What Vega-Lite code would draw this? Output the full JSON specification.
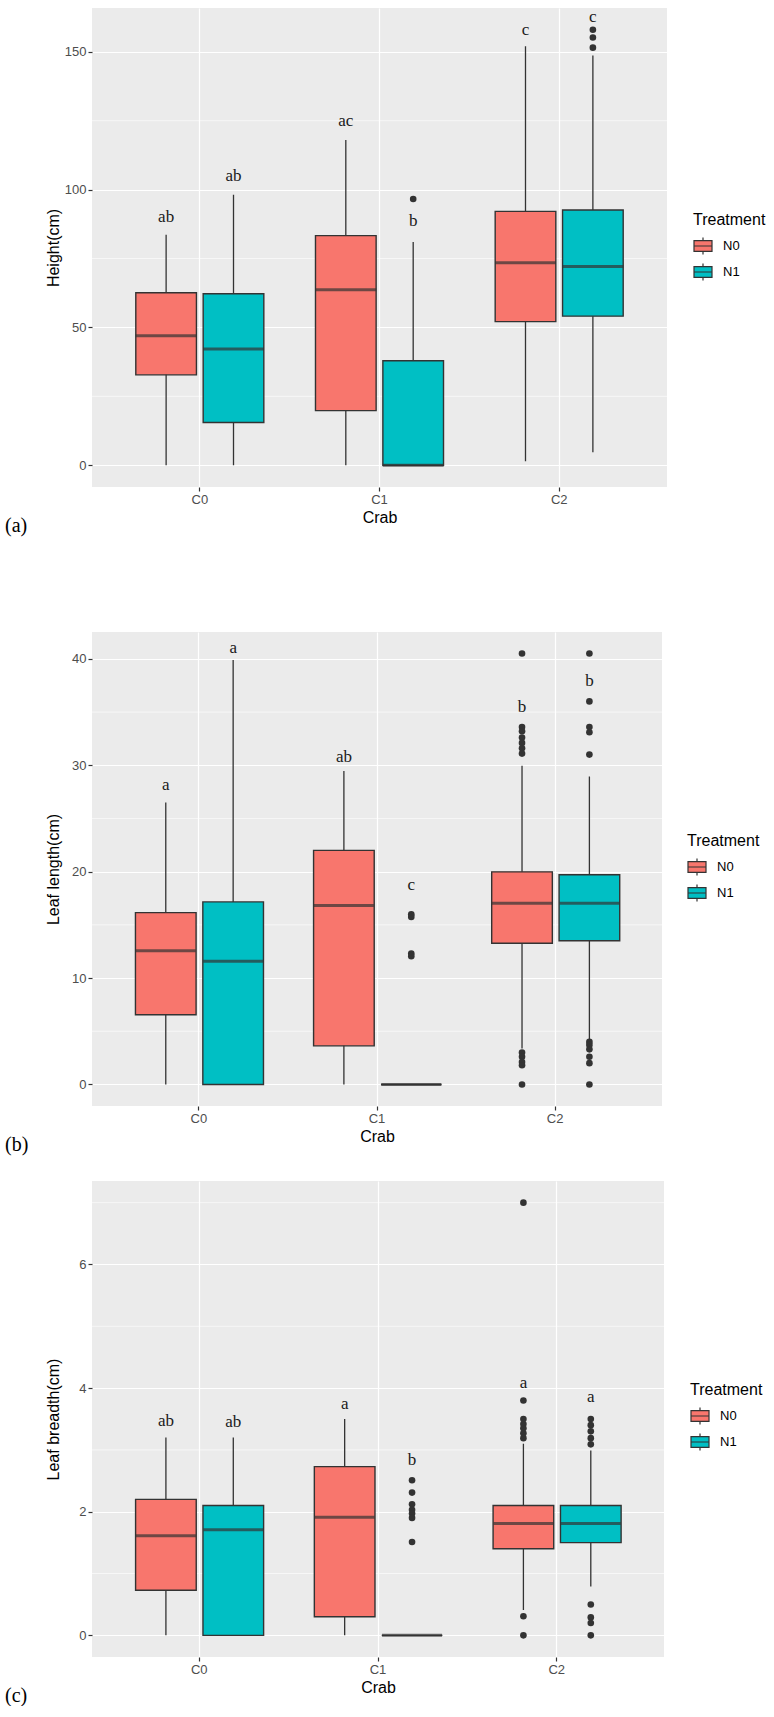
{
  "$schema": "https://vega.github.io/schema/vega-lite/v6.json",
  "background": "white",
  "padding": {"top": 7, "left": 5, "right": 0, "bottom": 0},
  "datasets": {
    "a_grid": [{"v": 25}, {"v": 75}, {"v": 125}],
    "b_grid": [{"v": 5}, {"v": 15}, {"v": 25}, {"v": 35}],
    "c_grid": [{"v": 1}, {"v": 3}, {"v": 5}, {"v": 7}],
    "a_box": [
      {"crab": "C0", "trt": "N0", "lo": 0, "q1": 32.8, "med": 47.0, "q3": 62.6, "hi": 83.6, "sig": "ab", "sig_y": 90.2},
      {"crab": "C0", "trt": "N1", "lo": 0, "q1": 15.5, "med": 42.2, "q3": 62.2, "hi": 98.1, "sig": "ab", "sig_y": 104.8},
      {"crab": "C1", "trt": "N0", "lo": 0, "q1": 19.8, "med": 63.7, "q3": 83.3, "hi": 118.0, "sig": "ac", "sig_y": 125.0},
      {"crab": "C1", "trt": "N1", "lo": 0, "q1": 0, "med": 0, "q3": 37.9, "hi": 81.0, "sig": "b", "sig_y": 88.5},
      {"crab": "C2", "trt": "N0", "lo": 1.4, "q1": 52.1, "med": 73.5, "q3": 92.1, "hi": 152.0, "sig": "c", "sig_y": 157.8},
      {"crab": "C2", "trt": "N1", "lo": 4.7, "q1": 54.1, "med": 72.1, "q3": 92.6, "hi": 148.7, "sig": "c", "sig_y": 162.7}
    ],
    "a_out": [
      {"crab": "C1", "trt": "N1", "v": 96.6},
      {"crab": "C2", "trt": "N1", "v": 151.5},
      {"crab": "C2", "trt": "N1", "v": 155.2},
      {"crab": "C2", "trt": "N1", "v": 158.0}
    ],
    "b_box": [
      {"crab": "C0", "trt": "N0", "lo": 0, "q1": 6.55, "med": 12.56, "q3": 16.15, "hi": 26.5, "sig": "a", "sig_y": 28.1},
      {"crab": "C0", "trt": "N1", "lo": 0, "q1": 0, "med": 11.59, "q3": 17.16, "hi": 39.9, "sig": "a", "sig_y": 41.0},
      {"crab": "C1", "trt": "N0", "lo": 0, "q1": 3.63, "med": 16.83, "q3": 22.0, "hi": 29.45, "sig": "ab", "sig_y": 30.8},
      {"crab": "C1", "trt": "N1", "lo": 0, "q1": 0, "med": 0, "q3": 0, "hi": 0, "sig": "c", "sig_y": 18.7},
      {"crab": "C2", "trt": "N0", "lo": 3.39, "q1": 13.27, "med": 17.03, "q3": 19.98, "hi": 29.96, "sig": "b", "sig_y": 35.5},
      {"crab": "C2", "trt": "N1", "lo": 4.27, "q1": 13.5, "med": 17.03, "q3": 19.71, "hi": 28.95, "sig": "b", "sig_y": 37.9}
    ],
    "b_out": [
      {"crab": "C1", "trt": "N1", "v": 16.0},
      {"crab": "C1", "trt": "N1", "v": 15.75},
      {"crab": "C1", "trt": "N1", "v": 12.3},
      {"crab": "C1", "trt": "N1", "v": 12.06},
      {"crab": "C2", "trt": "N0", "v": 40.5},
      {"crab": "C2", "trt": "N0", "v": 33.6},
      {"crab": "C2", "trt": "N0", "v": 33.2},
      {"crab": "C2", "trt": "N0", "v": 32.6},
      {"crab": "C2", "trt": "N0", "v": 32.1},
      {"crab": "C2", "trt": "N0", "v": 31.6},
      {"crab": "C2", "trt": "N0", "v": 31.1},
      {"crab": "C2", "trt": "N0", "v": 3.0},
      {"crab": "C2", "trt": "N0", "v": 2.6},
      {"crab": "C2", "trt": "N0", "v": 2.1},
      {"crab": "C2", "trt": "N0", "v": 1.8},
      {"crab": "C2", "trt": "N0", "v": 0},
      {"crab": "C2", "trt": "N1", "v": 40.5},
      {"crab": "C2", "trt": "N1", "v": 36.0},
      {"crab": "C2", "trt": "N1", "v": 33.6},
      {"crab": "C2", "trt": "N1", "v": 33.1},
      {"crab": "C2", "trt": "N1", "v": 31.0},
      {"crab": "C2", "trt": "N1", "v": 4.0},
      {"crab": "C2", "trt": "N1", "v": 3.7},
      {"crab": "C2", "trt": "N1", "v": 3.3},
      {"crab": "C2", "trt": "N1", "v": 2.6},
      {"crab": "C2", "trt": "N1", "v": 2.0},
      {"crab": "C2", "trt": "N1", "v": 0}
    ],
    "c_box": [
      {"crab": "C0", "trt": "N0", "lo": 0, "q1": 0.73, "med": 1.61, "q3": 2.2, "hi": 3.2, "sig": "ab", "sig_y": 3.47},
      {"crab": "C0", "trt": "N1", "lo": 0, "q1": 0, "med": 1.71, "q3": 2.1, "hi": 3.2, "sig": "ab", "sig_y": 3.45},
      {"crab": "C1", "trt": "N0", "lo": 0, "q1": 0.3, "med": 1.91, "q3": 2.73, "hi": 3.5, "sig": "a", "sig_y": 3.74},
      {"crab": "C1", "trt": "N1", "lo": 0, "q1": 0, "med": 0, "q3": 0, "hi": 0, "sig": "b", "sig_y": 2.83},
      {"crab": "C2", "trt": "N0", "lo": 0.41, "q1": 1.4, "med": 1.81, "q3": 2.1, "hi": 3.1, "sig": "a", "sig_y": 4.08},
      {"crab": "C2", "trt": "N1", "lo": 0.79, "q1": 1.5, "med": 1.81, "q3": 2.1, "hi": 2.99, "sig": "a", "sig_y": 3.85}
    ],
    "c_out": [
      {"crab": "C1", "trt": "N1", "v": 2.51},
      {"crab": "C1", "trt": "N1", "v": 2.31},
      {"crab": "C1", "trt": "N1", "v": 2.12},
      {"crab": "C1", "trt": "N1", "v": 2.03},
      {"crab": "C1", "trt": "N1", "v": 1.97},
      {"crab": "C1", "trt": "N1", "v": 1.9},
      {"crab": "C1", "trt": "N1", "v": 1.51},
      {"crab": "C2", "trt": "N0", "v": 7.0},
      {"crab": "C2", "trt": "N0", "v": 3.8},
      {"crab": "C2", "trt": "N0", "v": 3.5},
      {"crab": "C2", "trt": "N0", "v": 3.42},
      {"crab": "C2", "trt": "N0", "v": 3.35},
      {"crab": "C2", "trt": "N0", "v": 3.27},
      {"crab": "C2", "trt": "N0", "v": 3.19},
      {"crab": "C2", "trt": "N0", "v": 0.31},
      {"crab": "C2", "trt": "N0", "v": 0},
      {"crab": "C2", "trt": "N1", "v": 3.5},
      {"crab": "C2", "trt": "N1", "v": 3.4},
      {"crab": "C2", "trt": "N1", "v": 3.3},
      {"crab": "C2", "trt": "N1", "v": 3.19},
      {"crab": "C2", "trt": "N1", "v": 3.09},
      {"crab": "C2", "trt": "N1", "v": 0.5},
      {"crab": "C2", "trt": "N1", "v": 0.29},
      {"crab": "C2", "trt": "N1", "v": 0.2},
      {"crab": "C2", "trt": "N1", "v": 0}
    ]
  },
  "config": {
    "view": {"fill": "#EBEBEB", "stroke": null},
    "axis": {
      "domain": false, "grid": true, "gridColor": "#ffffff", "gridWidth": 1.2,
      "tickColor": "#333333", "tickSize": 4, "tickWidth": 1.2,
      "labelFont": "Liberation Sans", "labelFontSize": 13, "labelColor": "#4d4d4d", "labelPadding": 2,
      "titleFont": "Liberation Sans", "titleFontSize": 16, "titleFontWeight": "normal", "titleColor": "#000000"
    },
    "axisX": {"titlePadding": 3, "labelAngle": 0},
    "axisY": {"titlePadding": 3, "minExtent": 0},
    "legend": {
      "titleFont": "Liberation Sans", "titleFontSize": 16, "titleFontWeight": "normal", "titleColor": "#000000",
      "labelFont": "Liberation Sans", "labelFontSize": 13, "labelColor": "#000000",
      "symbolType": "M-1,-0.6H1V0.6H-1Z M-1,0H1 M0,-0.6V-0.95 M0,0.6V0.95",
      "symbolSize": 324, "symbolStrokeColor": "#333333", "symbolStrokeWidth": 1.2,
      "rowPadding": 4, "titlePadding": 8, "labelOffset": 10, "padding": 0
    },
    "title": {"font": "Liberation Serif", "fontSize": 20, "fontWeight": "normal", "color": "#000000"}
  },
  "columns": 1,
  "spacing": 96,
  "resolve": {"scale": {"fill": "independent"}, "legend": {"fill": "independent"}},
  "concat": [
    {
      "width": 575, "height": 479,
      "title": {"text": "(a)", "orient": "bottom", "anchor": "start", "frame": "group", "dx": -87, "offset": -9},
      "layer": [
        {"data": {"name": "a_grid"}, "mark": {"type": "rule", "color": "#ffffff", "strokeWidth": 0.6},
         "encoding": {"y": {"field": "v", "type": "quantitative", "scale": {"domain": [-7.9, 165.9], "nice": false, "zero": false}, "axis": {"values": [0, 50, 100, 150], "title": "Height(cm)", "titlePadding": 3}}}},
        {"data": {"name": "a_box"},
         "encoding": {
           "x": {"field": "crab", "type": "nominal", "scale": {"domain": ["C0", "C1", "C2"], "paddingInner": 0.25, "paddingOuter": 0.225}, "axis": {"title": "Crab"}},
           "xOffset": {"field": "trt", "type": "nominal", "scale": {"domain": ["N0", "N1"], "paddingInner": 0.1, "paddingOuter": 0.05}}
         },
         "layer": [
           {"mark": {"type": "rule", "color": "#333333", "strokeWidth": 1.3},
            "encoding": {"y": {"field": "lo", "type": "quantitative", "scale": {"domain": [-7.9, 165.9], "nice": false, "zero": false}, "axis": {"values": [0, 50, 100, 150], "title": "Height(cm)", "titlePadding": 3}}, "y2": {"field": "hi"}}},
           {"mark": {"type": "bar", "stroke": "#333333", "strokeWidth": 1.4},
            "encoding": {"y": {"field": "q1", "type": "quantitative", "scale": {"domain": [-7.9, 165.9], "nice": false, "zero": false}, "axis": {"values": [0, 50, 100, 150], "title": "Height(cm)", "titlePadding": 3}}, "y2": {"field": "q3"},
              "fill": {"field": "trt", "type": "nominal", "scale": {"domain": ["N0", "N1"], "range": ["#F8766D", "#00BFC4"]}, "legend": {"title": "Treatment", "orient": "none", "legendX": 601, "legendY": 204}}}},
           {"mark": {"type": "tick", "color": "#333333", "size": 61, "thickness": 3},
            "encoding": {"y": {"field": "med", "type": "quantitative", "scale": {"domain": [-7.9, 165.9], "nice": false, "zero": false}, "axis": {"values": [0, 50, 100, 150], "title": "Height(cm)", "titlePadding": 3}}}},
           {"data": {"name": "a_out"}, "mark": {"type": "point", "filled": true, "color": "#333333", "size": 44, "opacity": 1},
            "encoding": {"y": {"field": "v", "type": "quantitative", "scale": {"domain": [-7.9, 165.9], "nice": false, "zero": false}, "axis": {"values": [0, 50, 100, 150], "title": "Height(cm)", "titlePadding": 3}}}},
           {"mark": {"type": "text", "font": "Liberation Serif", "fontSize": 17, "color": "#1a1a1a", "baseline": "middle", "align": "center"},
            "encoding": {"y": {"field": "sig_y", "type": "quantitative", "scale": {"domain": [-7.9, 165.9], "nice": false, "zero": false}, "axis": {"values": [0, 50, 100, 150], "title": "Height(cm)", "titlePadding": 3}}, "text": {"field": "sig"}}}
         ]}
      ]
    },
    {
      "columns": 1,
      "spacing": 26,
      "resolve": {"scale": {"fill": "independent"}, "legend": {"fill": "independent"}},
      "concat": [
        {
          "width": 570, "height": 474,
          "title": {"text": "(b)", "orient": "bottom", "anchor": "start", "frame": "group", "dx": -87, "offset": -9},
          "layer": [
            {"data": {"name": "b_grid"}, "mark": {"type": "rule", "color": "#ffffff", "strokeWidth": 0.6},
             "encoding": {"y": {"field": "v", "type": "quantitative", "scale": {"domain": [-2.025, 42.525], "nice": false, "zero": false}, "axis": {"values": [0, 10, 20, 30, 40], "title": "Leaf length(cm)", "titlePadding": 10}}}},
            {"data": {"name": "b_box"},
             "encoding": {
               "x": {"field": "crab", "type": "nominal", "scale": {"domain": ["C0", "C1", "C2"], "paddingInner": 0.25, "paddingOuter": 0.225}, "axis": {"title": "Crab"}},
               "xOffset": {"field": "trt", "type": "nominal", "scale": {"domain": ["N0", "N1"], "paddingInner": 0.1, "paddingOuter": 0.05}}
             },
             "layer": [
               {"mark": {"type": "rule", "color": "#333333", "strokeWidth": 1.3},
                "encoding": {"y": {"field": "lo", "type": "quantitative", "scale": {"domain": [-2.025, 42.525], "nice": false, "zero": false}, "axis": {"values": [0, 10, 20, 30, 40], "title": "Leaf length(cm)", "titlePadding": 10}}, "y2": {"field": "hi"}}},
               {"mark": {"type": "bar", "stroke": "#333333", "strokeWidth": 1.4},
                "encoding": {"y": {"field": "q1", "type": "quantitative", "scale": {"domain": [-2.025, 42.525], "nice": false, "zero": false}, "axis": {"values": [0, 10, 20, 30, 40], "title": "Leaf length(cm)", "titlePadding": 10}}, "y2": {"field": "q3"},
                  "fill": {"field": "trt", "type": "nominal", "scale": {"domain": ["N0", "N1"], "range": ["#F8766D", "#00BFC4"]}, "legend": {"title": "Treatment", "orient": "none", "legendX": 595, "legendY": 201}}}},
               {"mark": {"type": "tick", "color": "#333333", "size": 60, "thickness": 3},
                "encoding": {"y": {"field": "med", "type": "quantitative", "scale": {"domain": [-2.025, 42.525], "nice": false, "zero": false}, "axis": {"values": [0, 10, 20, 30, 40], "title": "Leaf length(cm)", "titlePadding": 10}}}},
               {"data": {"name": "b_out"}, "mark": {"type": "point", "filled": true, "color": "#333333", "size": 44, "opacity": 1},
                "encoding": {"y": {"field": "v", "type": "quantitative", "scale": {"domain": [-2.025, 42.525], "nice": false, "zero": false}, "axis": {"values": [0, 10, 20, 30, 40], "title": "Leaf length(cm)", "titlePadding": 10}}}},
               {"mark": {"type": "text", "font": "Liberation Serif", "fontSize": 17, "color": "#1a1a1a", "baseline": "middle", "align": "center"},
                "encoding": {"y": {"field": "sig_y", "type": "quantitative", "scale": {"domain": [-2.025, 42.525], "nice": false, "zero": false}, "axis": {"values": [0, 10, 20, 30, 40], "title": "Leaf length(cm)", "titlePadding": 10}}, "text": {"field": "sig"}}}
             ]}
          ]
        },
        {
          "width": 572, "height": 476,
          "title": {"text": "(c)", "orient": "bottom", "anchor": "start", "frame": "group", "dx": -87, "offset": -9},
          "layer": [
            {"data": {"name": "c_grid"}, "mark": {"type": "rule", "color": "#ffffff", "strokeWidth": 0.6},
             "encoding": {"y": {"field": "v", "type": "quantitative", "scale": {"domain": [-0.35, 7.35], "nice": false, "zero": false}, "axis": {"values": [0, 2, 4, 6], "title": "Leaf breadth(cm)", "titlePadding": 17}}}},
            {"data": {"name": "c_box"},
             "encoding": {
               "x": {"field": "crab", "type": "nominal", "scale": {"domain": ["C0", "C1", "C2"], "paddingInner": 0.25, "paddingOuter": 0.225}, "axis": {"title": "Crab"}},
               "xOffset": {"field": "trt", "type": "nominal", "scale": {"domain": ["N0", "N1"], "paddingInner": 0.1, "paddingOuter": 0.05}}
             },
             "layer": [
               {"mark": {"type": "rule", "color": "#333333", "strokeWidth": 1.3},
                "encoding": {"y": {"field": "lo", "type": "quantitative", "scale": {"domain": [-0.35, 7.35], "nice": false, "zero": false}, "axis": {"values": [0, 2, 4, 6], "title": "Leaf breadth(cm)", "titlePadding": 17}}, "y2": {"field": "hi"}}},
               {"mark": {"type": "bar", "stroke": "#333333", "strokeWidth": 1.4},
                "encoding": {"y": {"field": "q1", "type": "quantitative", "scale": {"domain": [-0.35, 7.35], "nice": false, "zero": false}, "axis": {"values": [0, 2, 4, 6], "title": "Leaf breadth(cm)", "titlePadding": 17}}, "y2": {"field": "q3"},
                  "fill": {"field": "trt", "type": "nominal", "scale": {"domain": ["N0", "N1"], "range": ["#F8766D", "#00BFC4"]}, "legend": {"title": "Treatment", "orient": "none", "legendX": 598, "legendY": 201}}}},
               {"mark": {"type": "tick", "color": "#333333", "size": 60, "thickness": 3},
                "encoding": {"y": {"field": "med", "type": "quantitative", "scale": {"domain": [-0.35, 7.35], "nice": false, "zero": false}, "axis": {"values": [0, 2, 4, 6], "title": "Leaf breadth(cm)", "titlePadding": 17}}}},
               {"data": {"name": "c_out"}, "mark": {"type": "point", "filled": true, "color": "#333333", "size": 44, "opacity": 1},
                "encoding": {"y": {"field": "v", "type": "quantitative", "scale": {"domain": [-0.35, 7.35], "nice": false, "zero": false}, "axis": {"values": [0, 2, 4, 6], "title": "Leaf breadth(cm)", "titlePadding": 17}}}},
               {"mark": {"type": "text", "font": "Liberation Serif", "fontSize": 17, "color": "#1a1a1a", "baseline": "middle", "align": "center"},
                "encoding": {"y": {"field": "sig_y", "type": "quantitative", "scale": {"domain": [-0.35, 7.35], "nice": false, "zero": false}, "axis": {"values": [0, 2, 4, 6], "title": "Leaf breadth(cm)", "titlePadding": 17}}, "text": {"field": "sig"}}}
             ]}
          ]
        }
      ]
    }
  ]
}
